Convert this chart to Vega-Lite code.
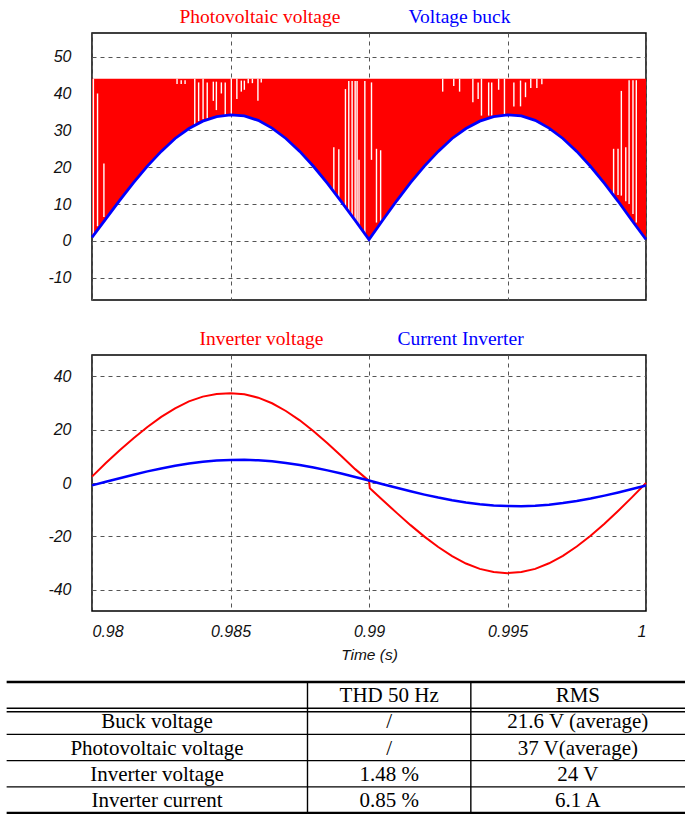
{
  "$schema": "https://vega.github.io/schema/vega-lite/v6.json",
  "padding": {"left": 5, "top": 6, "right": 0, "bottom": 0},
  "background": "#ffffff",
  "config": {
    "view": {"stroke": "#000000", "strokeWidth": 1.5},
    "axis": {
      "labelFont": "Liberation Sans", "labelFontStyle": "italic", "labelFontSize": 16, "labelColor": "#111111",
      "gridColor": "#555555", "gridDash": [4, 4], "gridWidth": 1, "gridOpacity": 1,
      "domain": false, "ticks": false,
      "titleFont": "Liberation Sans", "titleFontStyle": "italic", "titleFontWeight": "normal", "titleFontSize": 15.5, "titleColor": "#111111"
    },
    "legend": {
      "orient": "none", "direction": "horizontal", "title": null, "symbolSize": 0, "symbolOpacity": 0, "symbolStrokeWidth": 0,
      "labelOffset": 0, "labelFont": "Liberation Serif", "labelFontSize": 19.5, "labelLimit": 400, "padding": 0,
      "labelColor": {"expr": "indexof(['Voltage buck','Current Inverter'], datum.label) >= 0 ? '#0000ff' : '#ff0000'"}
    }
  },
  "datasets": {
    "buck": [
      {"t": 0.9800, "v": 1.0}, {"t": 0.9805, "v": 6.0}, {"t": 0.9810, "v": 11.0}, {"t": 0.9815, "v": 15.8},
      {"t": 0.9820, "v": 20.3}, {"t": 0.9825, "v": 24.3}, {"t": 0.9830, "v": 27.8}, {"t": 0.9835, "v": 30.5},
      {"t": 0.9840, "v": 32.5}, {"t": 0.9845, "v": 33.7}, {"t": 0.9850, "v": 34.2}, {"t": 0.9855, "v": 33.9},
      {"t": 0.9860, "v": 32.7}, {"t": 0.9865, "v": 30.6}, {"t": 0.9870, "v": 27.8}, {"t": 0.9875, "v": 24.3},
      {"t": 0.9880, "v": 20.2}, {"t": 0.9885, "v": 15.6}, {"t": 0.9890, "v": 10.7}, {"t": 0.9895, "v": 5.6},
      {"t": 0.9900, "v": 0.4}, {"t": 0.9905, "v": 5.7}, {"t": 0.9910, "v": 10.9}, {"t": 0.9915, "v": 15.8},
      {"t": 0.9920, "v": 20.3}, {"t": 0.9925, "v": 24.3}, {"t": 0.9930, "v": 27.8}, {"t": 0.9935, "v": 30.5},
      {"t": 0.9940, "v": 32.5}, {"t": 0.9945, "v": 33.7}, {"t": 0.9950, "v": 34.2}, {"t": 0.9955, "v": 33.9},
      {"t": 0.9960, "v": 32.7}, {"t": 0.9965, "v": 30.6}, {"t": 0.9970, "v": 27.8}, {"t": 0.9975, "v": 24.3},
      {"t": 0.9980, "v": 20.2}, {"t": 0.9985, "v": 15.6}, {"t": 0.9990, "v": 10.7}, {"t": 0.9995, "v": 5.5},
      {"t": 1.0000, "v": 0.4}
    ],
    "pv_gaps": [
      {"t": 0.98005, "hi": 44, "lo": 1.5}, {"t": 0.98020, "hi": 40, "lo": 4}, {"t": 0.98043, "hi": 21, "lo": 6.5},
      {"t": 0.98307, "hi": 44, "lo": 42.6}, {"t": 0.98322, "hi": 43.6, "lo": 42.6}, {"t": 0.98336, "hi": 43.6, "lo": 42.6},
      {"t": 0.98371, "hi": 44, "lo": 31.5}, {"t": 0.98385, "hi": 43, "lo": 32.5}, {"t": 0.98401, "hi": 44, "lo": 33},
      {"t": 0.98416, "hi": 43, "lo": 33.2}, {"t": 0.98438, "hi": 43.2, "lo": 38}, {"t": 0.98449, "hi": 43.2, "lo": 35.5},
      {"t": 0.98467, "hi": 43, "lo": 40}, {"t": 0.98481, "hi": 43, "lo": 34}, {"t": 0.98503, "hi": 44, "lo": 34.2},
      {"t": 0.98523, "hi": 44, "lo": 38.5}, {"t": 0.98539, "hi": 43.5, "lo": 40.5}, {"t": 0.98550, "hi": 43.5, "lo": 41},
      {"t": 0.98564, "hi": 44, "lo": 42.8}, {"t": 0.98579, "hi": 44, "lo": 42.8}, {"t": 0.98599, "hi": 44, "lo": 38},
      {"t": 0.98611, "hi": 44, "lo": 43},
      {"t": 0.98873, "hi": 25.4, "lo": 11.4}, {"t": 0.98891, "hi": 24.9, "lo": 10.5}, {"t": 0.98915, "hi": 41.2, "lo": 8.2},
      {"t": 0.98927, "hi": 43.4, "lo": 6.9}, {"t": 0.98939, "hi": 43.4, "lo": 5.1}, {"t": 0.98950, "hi": 43.4, "lo": 2.2},
      {"t": 0.98957, "hi": 43.4, "lo": 1.9}, {"t": 0.98964, "hi": 22, "lo": 1.5}, {"t": 0.98985, "hi": 43.4, "lo": 0.8},
      {"t": 0.99009, "hi": 43, "lo": 22}, {"t": 0.99027, "hi": 25, "lo": 5}, {"t": 0.99042, "hi": 24.6, "lo": 5.5},
      {"t": 0.99266, "hi": 44, "lo": 40.5}, {"t": 0.99306, "hi": 44, "lo": 42}, {"t": 0.99327, "hi": 44, "lo": 40.5},
      {"t": 0.99375, "hi": 44, "lo": 37.6}, {"t": 0.99394, "hi": 43, "lo": 38.5}, {"t": 0.99406, "hi": 44, "lo": 34},
      {"t": 0.99432, "hi": 43, "lo": 34}, {"t": 0.99443, "hi": 43, "lo": 34}, {"t": 0.99468, "hi": 44, "lo": 41},
      {"t": 0.99489, "hi": 44, "lo": 34.2}, {"t": 0.99523, "hi": 43, "lo": 36.5}, {"t": 0.99547, "hi": 43.5, "lo": 36.5},
      {"t": 0.99565, "hi": 43, "lo": 39}, {"t": 0.99584, "hi": 44, "lo": 41.5}, {"t": 0.99606, "hi": 44, "lo": 41.5},
      {"t": 0.99624, "hi": 44, "lo": 42.5},
      {"t": 0.99883, "hi": 25, "lo": 12.5}, {"t": 0.99899, "hi": 25, "lo": 12.5}, {"t": 0.99911, "hi": 40.7, "lo": 12.3},
      {"t": 0.99927, "hi": 25.4, "lo": 10.8}, {"t": 0.99939, "hi": 43.6, "lo": 10}, {"t": 0.99953, "hi": 43.6, "lo": 7.3},
      {"t": 0.99965, "hi": 43.6, "lo": 5}
    ],
    "vinv": [
      {"t": 0.9800, "v": 2.4}, {"t": 0.9805, "v": 7.5}, {"t": 0.9810, "v": 12.3}, {"t": 0.9815, "v": 16.8},
      {"t": 0.9820, "v": 21.0}, {"t": 0.9825, "v": 24.8}, {"t": 0.9830, "v": 28.0}, {"t": 0.9835, "v": 30.6},
      {"t": 0.9840, "v": 32.4}, {"t": 0.9845, "v": 33.4}, {"t": 0.9850, "v": 33.7}, {"t": 0.9855, "v": 33.3},
      {"t": 0.9860, "v": 32.0}, {"t": 0.9865, "v": 29.9}, {"t": 0.9870, "v": 27.0}, {"t": 0.9875, "v": 23.5},
      {"t": 0.9880, "v": 19.4}, {"t": 0.9885, "v": 14.9}, {"t": 0.9890, "v": 10.1}, {"t": 0.9895, "v": 5.2},
      {"t": 0.9900, "v": 0.8}, {"t": 0.99003, "v": -2.0}, {"t": 0.9905, "v": -6.5}, {"t": 0.9910, "v": -11.2},
      {"t": 0.9915, "v": -15.8}, {"t": 0.9920, "v": -20.1}, {"t": 0.9925, "v": -24.0}, {"t": 0.9930, "v": -27.4},
      {"t": 0.9935, "v": -30.2}, {"t": 0.9940, "v": -32.2}, {"t": 0.9945, "v": -33.4}, {"t": 0.9950, "v": -33.8},
      {"t": 0.9955, "v": -33.4}, {"t": 0.9960, "v": -32.2}, {"t": 0.9965, "v": -30.1}, {"t": 0.9970, "v": -27.3},
      {"t": 0.9975, "v": -23.8}, {"t": 0.9980, "v": -19.8}, {"t": 0.9985, "v": -15.3}, {"t": 0.9990, "v": -10.4},
      {"t": 0.9995, "v": -5.3}, {"t": 1.0000, "v": 0.0}
    ],
    "iinv": [
      {"t": 0.9800, "i": -0.9}, {"t": 0.9805, "i": 0.46}, {"t": 0.9810, "i": 1.81}, {"t": 0.9815, "i": 3.12},
      {"t": 0.9820, "i": 4.35}, {"t": 0.9825, "i": 5.47}, {"t": 0.9830, "i": 6.47}, {"t": 0.9835, "i": 7.30},
      {"t": 0.9840, "i": 7.95}, {"t": 0.9845, "i": 8.40}, {"t": 0.9850, "i": 8.65}, {"t": 0.9855, "i": 8.69},
      {"t": 0.9860, "i": 8.51}, {"t": 0.9865, "i": 8.12}, {"t": 0.9870, "i": 7.53}, {"t": 0.9875, "i": 6.76},
      {"t": 0.9880, "i": 5.82}, {"t": 0.9885, "i": 4.74}, {"t": 0.9890, "i": 3.54}, {"t": 0.9895, "i": 2.25},
      {"t": 0.9900, "i": 0.91}, {"t": 0.9905, "i": -0.46}, {"t": 0.9910, "i": -1.81}, {"t": 0.9915, "i": -3.12},
      {"t": 0.9920, "i": -4.35}, {"t": 0.9925, "i": -5.47}, {"t": 0.9930, "i": -6.47}, {"t": 0.9935, "i": -7.30},
      {"t": 0.9940, "i": -7.95}, {"t": 0.9945, "i": -8.40}, {"t": 0.9950, "i": -8.65}, {"t": 0.9955, "i": -8.69},
      {"t": 0.9960, "i": -8.51}, {"t": 0.9965, "i": -8.12}, {"t": 0.9970, "i": -7.53}, {"t": 0.9975, "i": -6.76},
      {"t": 0.9980, "i": -5.82}, {"t": 0.9985, "i": -4.74}, {"t": 0.9990, "i": -3.54}, {"t": 0.9995, "i": -2.25},
      {"t": 1.0000, "i": -0.91}
    ],
    "table": [
      {"row": "header", "col": "c2", "text": "THD 50 Hz"},
      {"row": "header", "col": "c3", "text": "RMS"},
      {"row": "Buck voltage", "col": "c1", "text": "Buck voltage"},
      {"row": "Buck voltage", "col": "c2", "text": "/"},
      {"row": "Buck voltage", "col": "c3", "text": "21.6 V (average)"},
      {"row": "Photovoltaic voltage", "col": "c1", "text": "Photovoltaic voltage"},
      {"row": "Photovoltaic voltage", "col": "c2", "text": "/"},
      {"row": "Photovoltaic voltage", "col": "c3", "text": "37 V(average)"},
      {"row": "Inverter voltage", "col": "c1", "text": "Inverter voltage"},
      {"row": "Inverter voltage", "col": "c2", "text": "1.48 %"},
      {"row": "Inverter voltage", "col": "c3", "text": "24 V"},
      {"row": "Inverter current", "col": "c1", "text": "Inverter current"},
      {"row": "Inverter current", "col": "c2", "text": "0.85 %"},
      {"row": "Inverter current", "col": "c3", "text": "6.1 A"}
    ],
    "cols": [
      {"col": "c1", "x0": 0, "center": 0.2217},
      {"col": "c2", "x0": 0.4435, "center": 0.5639},
      {"col": "c3", "x0": 0.6843, "center": 0.842}
    ]
  },
  "spacing": 16,
  "vconcat": [
    {
      "spacing": 27,
      "resolve": {"scale": {"color": "independent"}, "legend": {"color": "independent"}},
      "vconcat": [
        {
          "width": 554,
          "height": 267,
          "layer": [
            {
              "data": {"name": "buck"},
              "mark": {"type": "area", "opacity": 1},
              "encoding": {
                "x": {"field": "t", "type": "quantitative", "scale": {"domain": [0.98, 1], "nice": false, "zero": false},
                      "axis": {"values": [0.98, 0.985, 0.99, 0.995, 1], "labels": false, "title": null, "grid": true}},
                "y": {"field": "v", "type": "quantitative", "scale": {"domain": [-16, 56.4], "nice": false, "zero": false},
                      "axis": {"values": [-10, 0, 10, 20, 30, 40, 50], "title": null, "labelPadding": 21, "minExtent": 85, "maxExtent": 85, "grid": true,
                               "labelExpr": "replace(datum.label, '\u2212', '-')"}},
                "y2": {"datum": 44},
                "color": {"datum": "Photovoltaic voltage", "type": "nominal",
                          "scale": {"domain": ["Photovoltaic voltage", "Voltage buck"], "range": ["#ff0000", "#0000ff"]},
                          "legend": {"legendX": 68, "legendY": -26, "columnPadding": 48}}
              }
            },
            {
              "data": {"name": "pv_gaps"},
              "mark": {"type": "rule", "color": "#ffffff", "strokeWidth": 1.4},
              "encoding": {
                "x": {"field": "t", "type": "quantitative"},
                "y": {"field": "hi", "type": "quantitative"},
                "y2": {"field": "lo"}
              }
            },
            {
              "data": {"name": "buck"},
              "mark": {"type": "line", "strokeWidth": 2.8},
              "encoding": {
                "x": {"field": "t", "type": "quantitative"},
                "y": {"field": "v", "type": "quantitative"},
                "color": {"datum": "Voltage buck", "type": "nominal"}
              }
            }
          ]
        },
        {
          "width": 554,
          "height": 256,
          "layer": [
            {
              "data": {"name": "vinv"},
              "mark": {"type": "line", "strokeWidth": 2},
              "encoding": {
                "x": {"field": "t", "type": "quantitative", "scale": {"domain": [0.98, 1], "nice": false, "zero": false},
                      "axis": {"values": [0.98, 0.985, 0.99, 0.995, 1], "format": "~g", "title": "Time (s)", "labelPadding": 12, "titlePadding": 8, "grid": true}},
                "y": {"field": "v", "type": "quantitative", "scale": {"domain": [-48, 48], "nice": false, "zero": false},
                      "axis": {"values": [-40, -20, 0, 20, 40], "title": null, "labelPadding": 21, "minExtent": 85, "maxExtent": 85, "grid": true,
                               "labelExpr": "replace(datum.label, '\u2212', '-')"}},
                "color": {"datum": "Inverter voltage", "type": "nominal",
                          "scale": {"domain": ["Inverter voltage", "Current Inverter"], "range": ["#ff0000", "#0000ff"]},
                          "legend": {"legendX": 88, "legendY": -26, "columnPadding": 54}}
              }
            },
            {
              "data": {"name": "iinv"},
              "mark": {"type": "line", "strokeWidth": 2.5},
              "encoding": {
                "x": {"field": "t", "type": "quantitative"},
                "y": {"field": "i", "type": "quantitative"},
                "color": {"datum": "Current Inverter", "type": "nominal"}
              }
            }
          ]
        }
      ]
    },
    {
      "width": 593,
      "height": 131,
      "view": {"stroke": null},
      "layer": [
        {
          "data": {"name": "table"},
          "transform": [{"lookup": "col", "from": {"data": {"name": "cols"}, "key": "col", "fields": ["center"]}}],
          "mark": {"type": "text", "font": "Liberation Serif", "fontSize": 21, "color": "#000000", "baseline": "middle", "align": "center", "dy": 1},
          "encoding": {
            "x": {"field": "center", "type": "quantitative", "scale": {"domain": [0.12583, 1], "nice": false, "zero": false}, "axis": null},
            "y": {"field": "row", "type": "nominal", "axis": null,
                  "scale": {"domain": ["header", "Buck voltage", "Photovoltaic voltage", "Inverter voltage", "Inverter current"], "paddingInner": 0, "paddingOuter": 0}},
            "text": {"field": "text", "type": "nominal"}
          }
        },
        {
          "data": {"name": "table"},
          "transform": [{"filter": "datum.row == 'header' && datum.col == 'c2'"}],
          "mark": {"type": "rule", "color": "#000000", "strokeWidth": 2.3},
          "encoding": {
            "x": {"datum": 0, "type": "quantitative"}, "x2": {"datum": 1},
            "y": {"field": "row", "type": "nominal", "bandPosition": 0}
          }
        },
        {
          "data": {"name": "table"},
          "transform": [{"filter": "datum.row == 'Inverter current' && datum.col == 'c1'"}],
          "mark": {"type": "rule", "color": "#000000", "strokeWidth": 2.3},
          "encoding": {
            "x": {"datum": 0, "type": "quantitative"}, "x2": {"datum": 1},
            "y": {"field": "row", "type": "nominal", "bandPosition": 1}
          }
        },
        {
          "data": {"name": "table"},
          "transform": [{"filter": "datum.row == 'Buck voltage' && datum.col == 'c1'"}],
          "mark": {"type": "rule", "color": "#000000", "strokeWidth": 1.5},
          "encoding": {
            "x": {"datum": 0, "type": "quantitative"}, "x2": {"datum": 1},
            "y": {"field": "row", "type": "nominal", "bandPosition": 0}
          }
        },
        {
          "data": {"name": "table"},
          "transform": [{"filter": "datum.row == 'Buck voltage' && datum.col == 'c1'"}],
          "mark": {"type": "rule", "color": "#000000", "strokeWidth": 1.5, "yOffset": 3.5},
          "encoding": {
            "x": {"datum": 0, "type": "quantitative"}, "x2": {"datum": 1},
            "y": {"field": "row", "type": "nominal", "bandPosition": 0}
          }
        },
        {
          "data": {"name": "table"},
          "transform": [{"filter": "datum.col == 'c1' && datum.row != 'Buck voltage'"}],
          "mark": {"type": "rule", "color": "#000000", "strokeWidth": 1.2},
          "encoding": {
            "x": {"datum": 0, "type": "quantitative"}, "x2": {"datum": 1},
            "y": {"field": "row", "type": "nominal", "bandPosition": 0}
          }
        },
        {
          "data": {"name": "cols"},
          "transform": [{"filter": "datum.x0 > 0"}],
          "mark": {"type": "rule", "color": "#000000", "strokeWidth": 1.4},
          "encoding": {"x": {"field": "x0", "type": "quantitative"}}
        }
      ]
    }
  ]
}
